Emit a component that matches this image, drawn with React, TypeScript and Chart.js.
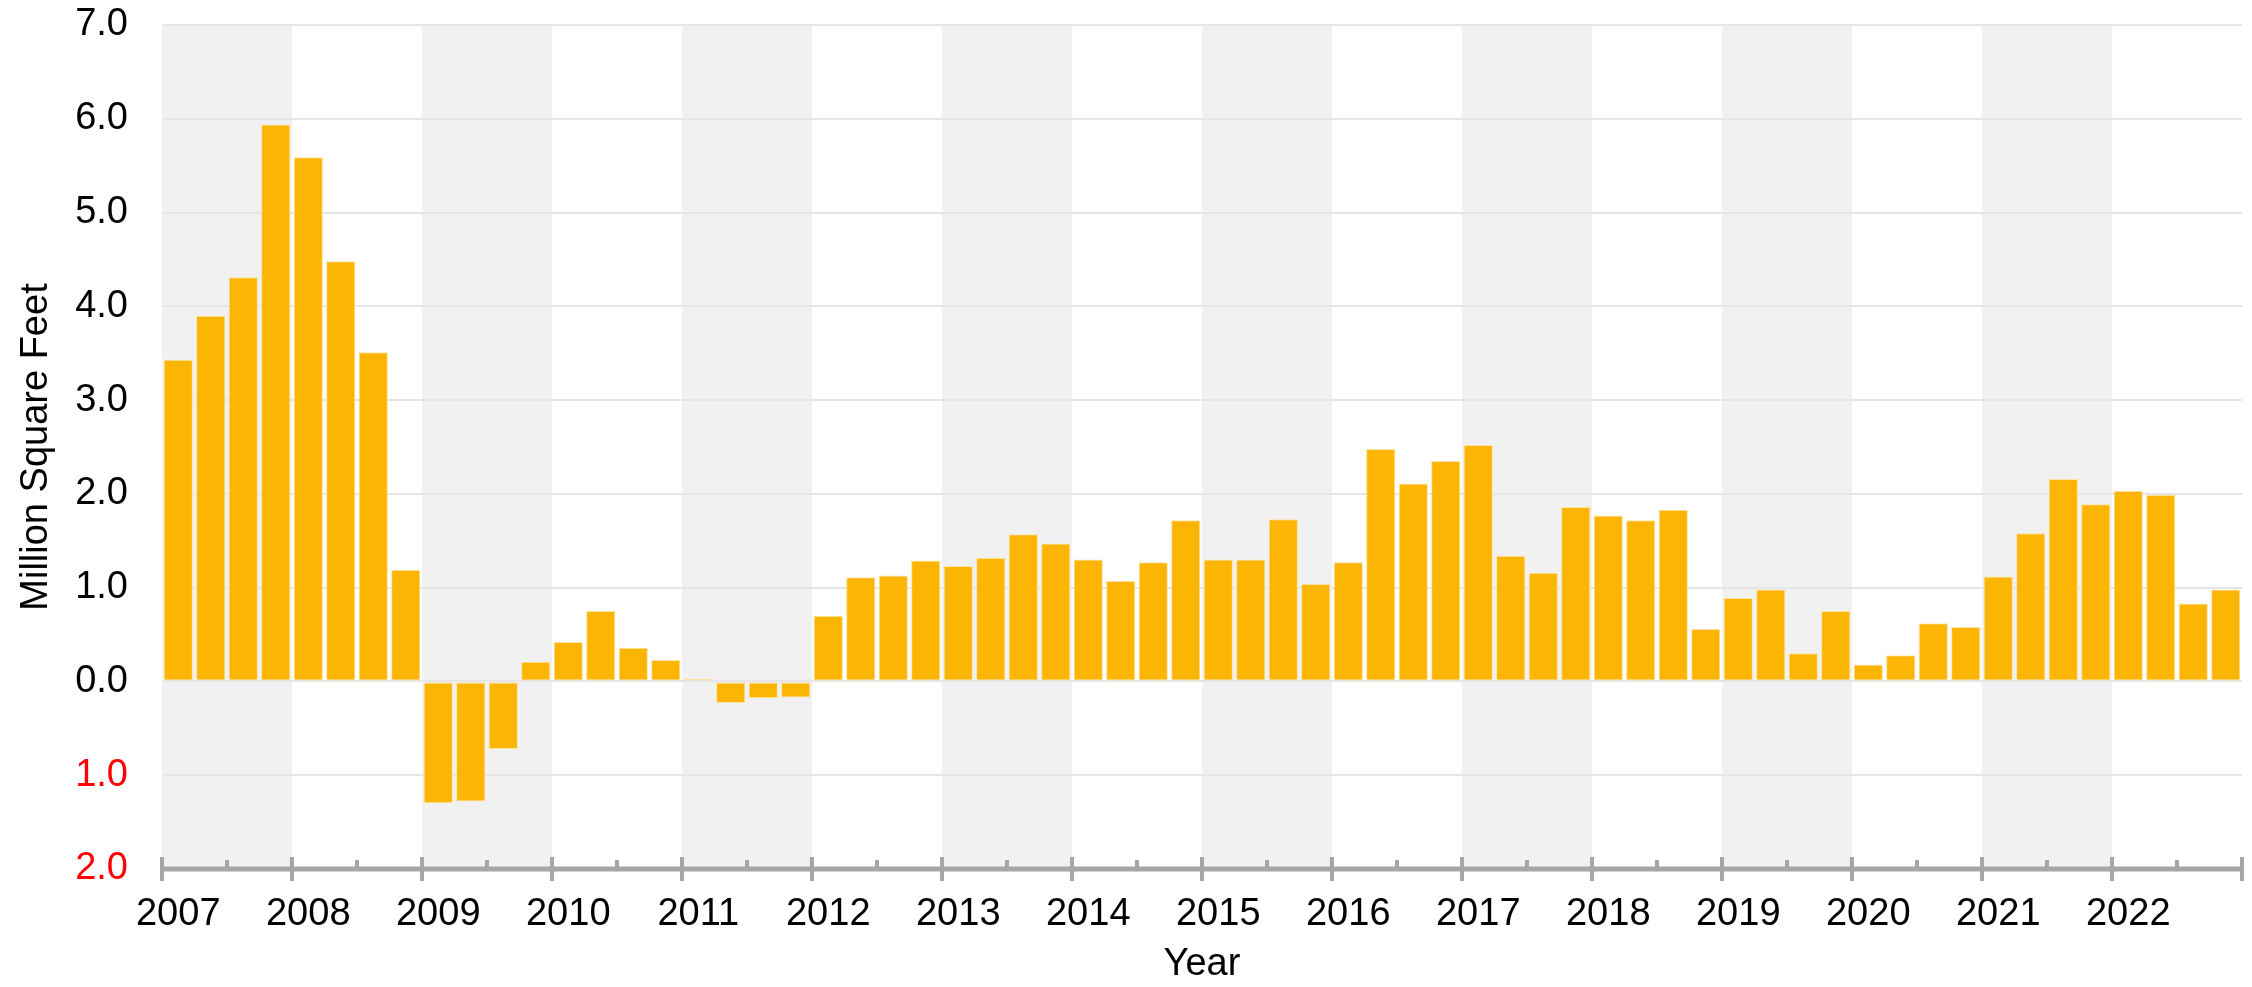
import React, { useEffect, useRef } from "react";
import { Chart, registerables } from "chart.js";

Chart.register(...registerables);

const years = ["2007", "2008", "2009", "2010", "2011", "2012", "2013", "2014", "2015", "2016", "2017", "2018", "2019", "2020", "2021", "2022"];
const quarters = ["Q1", "Q2", "Q3", "Q4"];
const absorption = [
  3.43, 3.90, 4.31, 5.94,
  5.59, 4.48, 3.51, 1.19,
  -1.30, -1.28, -0.72, 0.21,
  0.42, 0.75, 0.36, 0.23,
  0.03, -0.23, -0.18, -0.17,
  0.70, 1.11, 1.13, 1.29,
  1.23, 1.32, 1.57, 1.47,
  1.30, 1.07, 1.27, 1.72,
  1.30, 1.30, 1.73, 1.04,
  1.27, 2.48, 2.11, 2.35,
  2.52, 1.34, 1.16, 1.86,
  1.77, 1.72, 1.83, 0.56,
  0.89, 0.98, 0.30, 0.75,
  0.18, 0.28, 0.62, 0.58,
  1.12, 1.58, 2.16, 1.89,
  2.03, 1.99, 0.83, 0.98,
];
const yMin = -2;
const yMax = 7;

const FONT = "'Liberation Sans', Arial, Helvetica, sans-serif";
const FONT_SIZE = 38;
const BAR = "#FDB504";
const AXIS = "#a6a6a6";
const BAND = "#f1f1f1";

function boundary(scale: any, i: number) {
  const p0 = scale.getPixelForValue(0);
  const p1 = scale.getPixelForValue(1);
  const half = (p1 - p0) / 2;
  return p0 - half + i * (p1 - p0);
}

const decorPlugin = {
  id: "decor",
  beforeDraw(chart: any) {
    const { ctx, chartArea } = chart;
    const xs = chart.scales.x;
    ctx.save();
    ctx.fillStyle = BAND;
    years.forEach((_, yi) => {
      if (yi % 2 === 0) {
        const a = boundary(xs, yi * quarters.length);
        const b = boundary(xs, (yi + 1) * quarters.length);
        ctx.fillRect(a, chartArea.top, b - a, chartArea.bottom - chartArea.top);
      }
    });
    ctx.restore();
  },
  afterDatasetsDraw(chart: any) {
    const { ctx, chartArea } = chart;
    const xs = chart.scales.x;
    const y = chartArea.bottom;
    ctx.save();
    ctx.fillStyle = AXIS;
    ctx.fillRect(chartArea.left, y - 2.5, chartArea.right - chartArea.left, 5);
    const n = absorption.length;
    for (let i = 0; i <= n; i += 2) {
      const x = boundary(xs, i);
      if (i % 4 === 0) {
        ctx.fillRect(x - 2, y - 12, 4, 24);
      } else {
        ctx.fillRect(x - 2, y - 9, 4, 9);
      }
    }
    ctx.restore();
  },
};

export default function App() {
  const ref = useRef<HTMLCanvasElement | null>(null);

  useEffect(() => {
    if (!ref.current) return;
    const labels: string[] = [];
    years.forEach((yr) => quarters.forEach((q) => labels.push(yr + " " + q)));

    Chart.defaults.font.family = FONT;
    const chart = new Chart(ref.current, {
      type: "bar",
      data: {
        labels,
        datasets: [
          {
            label: "Net Absorption",
            data: absorption,
            backgroundColor: BAR,
            borderColor: "#FDE3A0",
            borderWidth: 1,
            borderSkipped: false,
            barPercentage: 0.9,
            categoryPercentage: 1.0,
          },
        ],
      },
      options: {
        responsive: false,
        animation: false,
        events: [],
        layout: { padding: { top: 25, right: 10, left: 0, bottom: 0 } },
        plugins: {
          legend: { display: false },
          tooltip: { enabled: false },
          title: { display: false },
        },
        scales: {
          x: {
            type: "category",
            offset: true,
            grid: { display: false, drawTicks: false },
            border: { display: false },
            ticks: {
              autoSkip: false,
              maxRotation: 0,
              minRotation: 0,
              padding: 23,
              color: "#000000",
              font: { size: FONT_SIZE, family: FONT },
              callback: (_v: any, idx: number) =>
                idx % quarters.length === 0 ? years[idx / quarters.length] : "",
            },
            title: {
              display: true,
              text: "Year",
              color: "#000000",
              font: { size: FONT_SIZE, family: FONT },
              padding: { top: 0, bottom: 0 },
            },
            afterFit: (scale: any) => {
              scale.height = 118;
              scale.paddingLeft = 0;
              scale.paddingRight = 0;
            },
          },
          y: {
            min: yMin,
            max: yMax,
            grid: { color: "#e6e6e6", lineWidth: 2, drawTicks: false },
            border: { display: false },
            ticks: {
              stepSize: 1,
              padding: 34,
              font: { size: FONT_SIZE, family: FONT },
              color: (ctx: any) => (ctx.tick && ctx.tick.value < 0 ? "#ff0000" : "#000000"),
              callback: (v: any) => Math.abs(Number(v)).toFixed(1),
            },
            title: {
              display: true,
              text: "Million Square Feet",
              color: "#000000",
              font: { size: FONT_SIZE, family: FONT },
              padding: { top: 14, bottom: 0 },
            },
            afterFit: (scale: any) => {
              scale.width = 162;
              scale.paddingTop = 0;
              scale.paddingBottom = 0;
            },
          },
        },
      },
      plugins: [decorPlugin],
    });
    return () => chart.destroy();
  }, []);

  return (
    <div style={{ position: "fixed", left: 0, top: 0, width: 2252, height: 987, background: "#ffffff" }}>
      <canvas ref={ref} width={2252} height={987} style={{ display: "block", width: 2252, height: 987 }} />
    </div>
  );
}
